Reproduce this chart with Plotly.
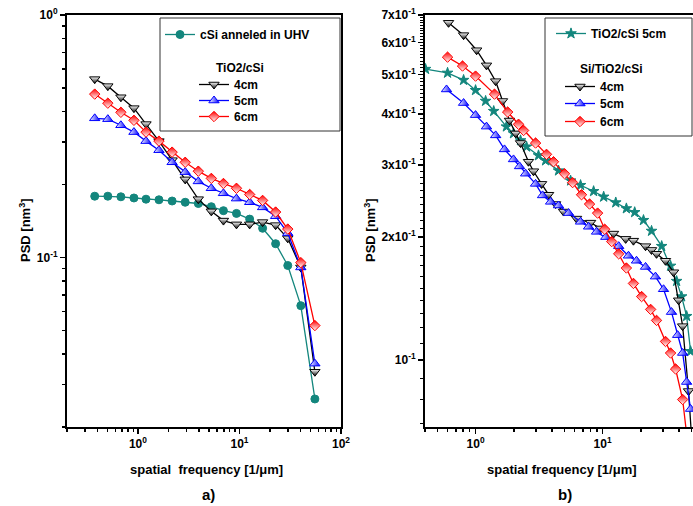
import math
import plotly.graph_objects as go

W, H = 693, 506

# ---------------- Panel a) data ----------------
freq_a = [0.375, 0.505, 0.679, 0.913, 1.20, 1.61, 2.17, 2.92, 3.93, 5.28, 6.95,
          9.34, 12.6, 16.9, 22.7, 29.9, 40.2, 55.3]
psd_a_cSi = [0.179, 0.179, 0.178, 0.176, 0.174, 0.173, 0.171, 0.169, 0.167, 0.162,
             0.156, 0.152, 0.144, 0.132, 0.114, 0.0927, 0.0633, 0.0261]
psd_a_4cm = [0.544, 0.509, 0.458, 0.413, 0.355, 0.302, 0.252, 0.210, 0.174, 0.155,
             0.142, 0.137, 0.137, 0.140, 0.136, 0.120, 0.091, 0.0338]
psd_a_5cm = [0.375, 0.372, 0.351, 0.329, 0.302, 0.277, 0.247, 0.225, 0.206, 0.193,
             0.184, 0.175, 0.169, 0.161, 0.148, 0.126, 0.091, 0.0365]
psd_a_6cm = [0.472, 0.433, 0.397, 0.368, 0.329, 0.302, 0.272, 0.247, 0.227, 0.212,
             0.202, 0.193, 0.182, 0.172, 0.154, 0.131, 0.0953, 0.0524]

# ---------------- Panel b) data ----------------
freq_b_ref = [0.404, 0.602, 0.805, 1.0, 1.20, 1.39, 1.75, 1.99, 2.26, 2.52, 3.13, 3.56,
              4.50, 5.60, 6.71, 8.50, 10.2, 12.7, 15.4, 17.9, 21.0, 24.3, 29.2, 34.3,
              38.3, 41.9, 45.9, 49.3]
psd_b_ref = [0.516, 0.505, 0.485, 0.458, 0.431, 0.407, 0.373, 0.359, 0.345, 0.333, 0.317,
             0.308, 0.291, 0.275, 0.268, 0.259, 0.251, 0.243, 0.235, 0.230, 0.220, 0.207,
             0.190, 0.170, 0.156, 0.143, 0.128, 0.105]

freq_b_4cm = [0.613, 0.805, 1.02, 1.22, 1.44, 1.63, 1.85, 2.07, 2.26, 2.61, 2.86, 3.31,
              3.76, 4.27, 4.93, 6.24, 8.05, 9.64, 12.2, 15.2, 17.5, 21.8, 24.3, 26.6,
              31.3, 36.2, 39.7, 42.7, 47.5, 52.0]
psd_b_4cm = [0.670, 0.625, 0.574, 0.527, 0.482, 0.431, 0.386, 0.359, 0.340, 0.306, 0.290,
             0.270, 0.254, 0.241, 0.231, 0.222, 0.217, 0.210, 0.204, 0.198, 0.196, 0.190,
             0.186, 0.182, 0.175, 0.164, 0.140, 0.121, 0.0839, 0.055]

freq_b_5cm = [0.591, 0.805, 1.0, 1.22, 1.44, 1.69, 1.99, 2.22, 2.48, 2.97, 3.37, 3.90,
              4.50, 5.40, 6.71, 7.76, 8.97, 10.6, 13.4, 16.0, 18.5, 21.8, 26.1, 30.2,
              34.9, 39.0, 42.7, 45.9, 49.3]
psd_b_5cm = [0.460, 0.426, 0.398, 0.373, 0.355, 0.328, 0.310, 0.298, 0.286, 0.270, 0.253,
             0.244, 0.239, 0.229, 0.218, 0.212, 0.206, 0.200, 0.190, 0.180, 0.175, 0.169,
             0.160, 0.149, 0.131, 0.115, 0.104, 0.0883, 0.0758]

freq_b_6cm = [0.602, 0.790, 1.0, 1.41, 1.79, 2.18, 2.39, 2.97, 3.62, 4.11, 5.02, 5.81,
              6.83, 7.90, 9.14, 10.4, 11.8, 13.4, 15.4, 17.5, 20.3, 23.9, 26.6, 31.3,
              34.3, 37.6, 42.7, 47.5]
psd_b_6cm = [0.552, 0.525, 0.496, 0.448, 0.405, 0.378, 0.365, 0.340, 0.319, 0.306, 0.286,
             0.272, 0.254, 0.241, 0.229, 0.209, 0.195, 0.182, 0.168, 0.154, 0.143, 0.133,
             0.125, 0.111, 0.104, 0.095, 0.080, 0.060]

# tick labels
x_major = [1, 10, 100]
x_major_text = ["10<sup>0</sup>", "10<sup>1</sup>", "10<sup>2</sup>"]
ya_major = [0.1, 1]
ya_major_text = ["10<sup>-1</sup>", "10<sup>0</sup>"]
yb_major = [0.1, 0.2, 0.3, 0.4, 0.5, 0.6, 0.7]
yb_major_text = ["10<sup>-1</sup>", "2x10<sup>-1</sup>", "3x10<sup>-1</sup>", "4x10<sup>-1</sup>",
                 "5x10<sup>-1</sup>", "6x10<sup>-1</sup>", "7x10<sup>-1</sup>"]

TEAL = "#13867d"
FONT = "Liberation Sans, Arial, sans-serif"


def px(x):
    return x / W


def py(y):
    return 1 - y / H


fig = go.Figure()


def add(x, y, name, color, symbol, size, xa, ya, legend, mfill, gcolor=None, gtype=None):
    marker = dict(symbol=symbol, size=size, color=mfill,
                  line=dict(color=color, width=1))
    if gtype:
        marker["gradient"] = dict(type=gtype, color=gcolor)
    fig.add_trace(go.Scatter(
        x=x, y=y, name=name, mode="lines+markers",
        line=dict(color=color, width=1.3), marker=marker,
        xaxis=xa, yaxis=ya, legend=legend, cliponaxis=True))


# panel a
add(freq_a, psd_a_cSi, "cSi anneled in UHV", TEAL, "circle", 8, "x", "y", "legend", TEAL)
add(freq_a, psd_a_4cm, "4cm", "black", "triangle-down", 9, "x", "y", "legend2", "white", "black", "vertical")
add(freq_a, psd_a_5cm, "5cm", "blue", "triangle-up", 9, "x", "y", "legend3", "white", "blue", "horizontal")
add(freq_a, psd_a_6cm, "6cm", "red", "diamond", 8, "x", "y", "legend4", "red", "white", "vertical")

# panel b
add(freq_b_ref, psd_b_ref, "TiO2/cSi 5cm", TEAL, "star", 8, "x2", "y2", "legend5", TEAL)
add(freq_b_4cm, psd_b_4cm, "4cm", "black", "triangle-down", 9, "x2", "y2", "legend6", "white", "black", "vertical")
add(freq_b_5cm, psd_b_5cm, "5cm", "blue", "triangle-up", 9, "x2", "y2", "legend7", "white", "blue", "horizontal")
add(freq_b_6cm, psd_b_6cm, "6cm", "red", "diamond", 8, "x2", "y2", "legend8", "red", "white", "vertical")

tickfont = dict(family=FONT, size=12, color="black", weight="bold")


def minor_log(lo_exp, hi_exp):
    vals = []
    for e in range(lo_exp, hi_exp + 1):
        for d in range(2, 10):
            vals.append(d * 10 ** e)
    return vals


axis_common = dict(type="log", showgrid=False, zeroline=False, showline=True,
                   linecolor="black", linewidth=2, ticks="outside", ticklen=5,
                   tickwidth=1.5, tickcolor="black", tickfont=tickfont,
                   tickmode="array", automargin=False, ticklabeloverflow="allow")

yb_minor = [round(0.07 + 0.01 * i, 3) for i in range(0, 64)]
yb_minor = [v for v in yb_minor if all(abs(v - m) > 1e-6 for m in yb_major)]

fig.update_layout(
    width=W, height=H, margin=dict(l=0, r=0, t=0, b=0),
    paper_bgcolor="white", plot_bgcolor="white", showlegend=True,
    font=dict(family=FONT, color="black"),
    xaxis=dict(axis_common, domain=[px(67), px(341)], anchor="y",
               range=[math.log10(0.2), 2], mirror=True,
               tickvals=x_major, ticktext=x_major_text,
               minor=dict(tickvals=minor_log(-1, 1), ticks="outside", ticklen=3,
                          tickwidth=1.5, tickcolor="black")),
    yaxis=dict(axis_common, domain=[py(427), py(15)], anchor="x",
               range=[math.log10(0.02), 0.0001], mirror=True,
               tickvals=ya_major, ticktext=ya_major_text,
               minor=dict(tickvals=minor_log(-2, -1), ticks="outside", ticklen=3,
                          tickwidth=1.5, tickcolor="black")),
    xaxis2=dict(axis_common, domain=[px(425), 1.0], anchor="y2",
                range=[math.log10(0.4), 1.712], mirror=True,
                tickvals=x_major, ticktext=x_major_text,
                minor=dict(tickvals=minor_log(-1, 1), ticks="outside", ticklen=3,
                           tickwidth=1.5, tickcolor="black")),
    yaxis2=dict(axis_common, domain=[py(427), py(15)], anchor="x2",
                range=[math.log10(0.0685), math.log10(0.7) + 0.0001], mirror=False,
                tickvals=yb_major, ticktext=yb_major_text,
                minor=dict(tickvals=yb_minor, ticks="outside", ticklen=3,
                           tickwidth=1, tickcolor="black")),
)

legfont = dict(family=FONT, size=12, color="black", weight="bold")
leg_common = dict(bgcolor="rgba(0,0,0,0)", borderwidth=0, font=legfont,
                  xanchor="left", yanchor="top", itemwidth=30)
# one legend per entry so that each entry sits where the reference has it
# (entry centre = legend top + 15 px)
legend_pos = {
    "legend": (160, 35), "legend2": (194, 85), "legend3": (194, 101), "legend4": (194, 117),
    "legend5": (551, 34), "legend6": (560, 87), "legend7": (560, 104), "legend8": (560, 122),
}
fig.update_layout({k: dict(leg_common, x=px(x), y=py(yc - 15))
                   for k, (x, yc) in legend_pos.items()})

# legend frames
fig.add_shape(type="rect", xref="paper", yref="paper", x0=px(160), x1=px(340),
              y0=py(131), y1=py(18), line=dict(color="#333333", width=1))
fig.add_shape(type="rect", xref="paper", yref="paper", x0=px(545), x1=px(692),
              y0=py(136), y1=py(18), line=dict(color="#333333", width=1))

titlefont = dict(family=FONT, size=13, color="black", weight="bold")
ann = [
    dict(text="TiO2/cSi", x=px(240), y=py(68), font=legfont),
    dict(text="Si/TiO2/cSi", x=px(611), y=py(69), font=legfont),
    dict(text="spatial&nbsp; frequency [1/\u03bcm]", x=px(206), y=py(469)),
    dict(text="spatial frequency [1/\u03bcm]", x=px(562), y=py(469)),
    dict(text="a)", x=px(208), y=py(494), font=dict(titlefont, size=15)),
    dict(text="b)", x=px(565), y=py(494), font=dict(titlefont, size=15)),
    dict(text="PSD [nm<sup>3</sup>]", x=px(25), y=py(230), textangle=-90),
    dict(text="PSD [nm<sup>3</sup>]", x=px(370), y=py(230), textangle=-90),
]
for a in ann:
    d = dict(xref="paper", yref="paper", showarrow=False, font=titlefont,
             xanchor="center", yanchor="middle")
    d.update(a)
    fig.add_annotation(**d)

# remove the browser's default 8px body margin so the figure fills the window
fig.write_html("out.html",
               config={"displayModeBar": False, "staticPlot": True},
               post_script="document.body.style.margin='0px';document.body.style.overflow='hidden';")
